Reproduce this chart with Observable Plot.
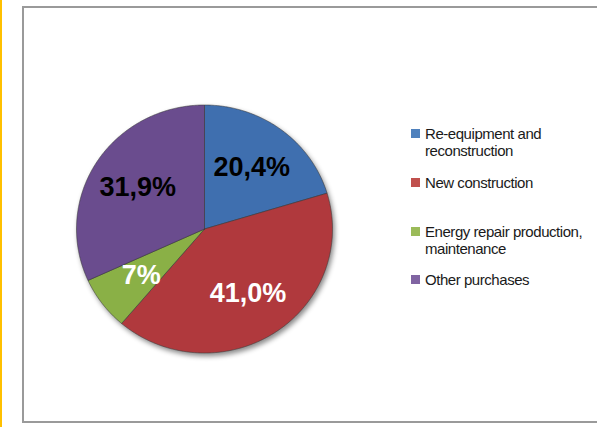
<!DOCTYPE html>
<html>
<head>
<meta charset="utf-8">
<script src="https://cdn.jsdelivr.net/npm/d3@7"></script>
<script src="https://cdn.jsdelivr.net/npm/@observablehq/plot@0.6"></script>
<style>
  html, body { margin: 0; padding: 0; background: #ffffff; }
  #wrap { position: relative; width: 597px; height: 427px; overflow: hidden; background: #fff; }
  #stripe { position: absolute; left: 0; top: 0; width: 2px; height: 427px; background: #FFC000; }
  #box { position: absolute; left: 22px; top: 6px; width: 600px; height: 413px; border: 2px solid #9a9a9a; box-sizing: content-box; pointer-events: none; }
  #chart { position: absolute; left: 0; top: 0; }
  #chart svg g[aria-label="line"] { filter: drop-shadow(2px 3px 2.5px rgba(0,0,0,0.45)); }
  .leg { position: absolute; left: 411px; font-family: "Liberation Sans", Arial, sans-serif; font-size: 15px; letter-spacing: -0.45px; line-height: 17px; color: #1a1a1a; width: 175px; }
  .leg .sw { position: absolute; left: 0; top: 4px; width: 9px; height: 9px; }
  .leg .tx { position: absolute; left: 14px; top: 0; width: 170px; }
</style>
</head>
<body>
<div id="wrap">
  <div id="stripe"></div>
  <div id="chart"></div>
  <div id="box"></div>
  <div id="legend"></div>
</div>
<script>
// ---- data ----
const categories = ["Re-equipment and reconstruction", "New construction", "Energy repair production, maintenance", "Other purchases"];
const shares = [20.4, 41.0, 7, 31.9];
const labels = ["20,4%", "41,0%", "7%", "31,9%"];

// ---- styles ----
const pieColors = ["#3F6FAF", "#B0393D", "#8AB046", "#6A4C8E"];
const legendColors = ["#4F81BD", "#C0504D", "#9BBB59", "#8064A2"];
const labelColors = ["#000000", "#ffffff", "#ffffff", "#000000"];

// ---- geometry from data ----
const total = d3.sum(shares);
const slices = [];
let acc = 0;
shares.forEach((v, i) => {
  const a0 = acc / total * 2 * Math.PI;
  acc += v;
  const a1 = acc / total * 2 * Math.PI;
  slices.push({name: categories[i], value: v, label: labels[i], a0, a1, i});
});

const pts = [];
for (const s of slices) {
  pts.push({name: s.name, x: 0, y: 0});
  const n = Math.max(2, Math.ceil((s.a1 - s.a0) / (Math.PI / 360)));
  for (let k = 0; k <= n; k++) {
    const a = s.a0 + (s.a1 - s.a0) * k / n;
    pts.push({name: s.name, x: Math.sin(a), y: Math.cos(a)});
  }
  pts.push({name: s.name, x: 0, y: 0});
}

const labelR = 0.62;
const labelData = slices.map(s => {
  const m = (s.a0 + s.a1) / 2;
  return {label: s.label, x: labelR * Math.sin(m), y: labelR * Math.cos(m), color: labelColors[s.i]};
});

const plot = Plot.plot({
  width: 597,
  height: 427,
  margin: 0,
  style: {background: "transparent", overflow: "visible"},
  x: {domain: [-1, 1], range: [76, 332], axis: null},
  y: {domain: [-1, 1], range: [352.5, 104.5], axis: null},
  color: {domain: categories, range: pieColors},
  marks: [
    Plot.line(pts, {x: "x", y: "y", z: "name", fill: "name", stroke: "#3a3a3a", strokeWidth: 0.7, strokeOpacity: 0.8, curve: "linear"}),
    Plot.text(labelData.filter(d => d.color === "#000000"), {x: "x", y: "y", text: "label", fill: "#000000", fontSize: 27, fontWeight: "bold", fontFamily: "Liberation Sans, Arial, sans-serif"}),
    Plot.text(labelData.filter(d => d.color !== "#000000"), {x: "x", y: "y", text: "label", fill: "#ffffff", fontSize: 27, fontWeight: "bold", fontFamily: "Liberation Sans, Arial, sans-serif"})
  ]
});
document.getElementById("chart").appendChild(plot);

// ---- legend ----
const legendTops = [124.5, 173.5, 222.5, 270.5];
const legend = document.getElementById("legend");
categories.forEach((c, i) => {
  const item = document.createElement("div");
  item.className = "leg";
  item.style.top = legendTops[i] + "px";
  const sw = document.createElement("div");
  sw.className = "sw";
  sw.style.background = legendColors[i];
  const tx = document.createElement("div");
  tx.className = "tx";
  tx.textContent = c;
  item.appendChild(sw);
  item.appendChild(tx);
  legend.appendChild(item);
});
</script>
</body>
</html>
